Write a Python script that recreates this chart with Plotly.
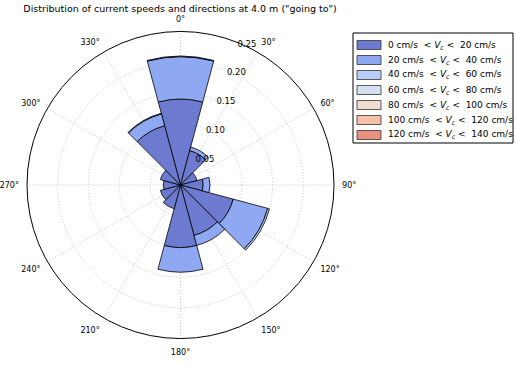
import plotly.graph_objects as go

# Direction sectors (degrees, "going to")
directions = [0, 30, 60, 90, 120, 150, 180, 210, 240, 270, 300, 330]

# Speed-bin labels
bin_labels = [
    "0 cm/s  <i>&lt; V<sub>c</sub> &lt;</i>  20 cm/s",
    "20 cm/s  <i>&lt; V<sub>c</sub> &lt;</i>  40 cm/s",
    "40 cm/s  <i>&lt; V<sub>c</sub> &lt;</i>  60 cm/s",
    "60 cm/s  <i>&lt; V<sub>c</sub> &lt;</i>  80 cm/s",
    "80 cm/s  <i>&lt; V<sub>c</sub> &lt;</i>  100 cm/s",
    "100 cm/s  <i>&lt; V<sub>c</sub> &lt;</i>  120 cm/s",
    "120 cm/s  <i>&lt; V<sub>c</sub> &lt;</i>  140 cm/s",
]

# Frequencies per direction for each speed bin
freq_0_20 = [0.140, 0.058, 0.028, 0.037, 0.089, 0.085, 0.102, 0.040, 0.034, 0.028, 0.034, 0.100]
freq_20_40 = [0.069, 0.006, 0.000, 0.011, 0.058, 0.017, 0.040, 0.000, 0.000, 0.000, 0.000, 0.020]
freq_40_60 = [0.001, 0.000, 0.000, 0.000, 0.003, 0.000, 0.000, 0.000, 0.000, 0.000, 0.000, 0.001]
freq_60_80 = [0.0] * 12
freq_80_100 = [0.0] * 12
freq_100_120 = [0.0] * 12
freq_120_140 = [0.0] * 12

bin_colors = ["#6c7bd0", "#8ea8f2", "#b8cdf8", "#d9dff2", "#f2ddd2", "#f6bfa8", "#e6917f"]

radial_ticks = [0.05, 0.10, 0.15, 0.20, 0.25]
radial_ticktext = ["0.05", "0.10", "0.15", "0.20", "0.25"]
angle_ticks = directions
angle_ticktext = [f"{d}°" for d in directions]

series = [freq_0_20, freq_20_40, freq_40_60, freq_60_80, freq_80_100, freq_100_120, freq_120_140]

fig = go.Figure()
for name, vals, col in zip(bin_labels, series, bin_colors):
    fig.add_trace(go.Barpolar(
        r=vals, theta=directions, width=[30] * len(directions), name=name,
        marker=dict(color=col, line=dict(color="black", width=0.8)),
        showlegend=False,
    ))

W, H = 516, 365
cx, cy, R = 180.5, 185.0, 153.5


def px(x):
    return x / W


def py(y):
    return 1 - y / H


# Legend box drawn as layout decoration (matplotlib-style legend)
shapes = [dict(type="rect", xref="paper", yref="paper",
               x0=px(353), x1=px(513), y0=py(143), y1=py(33),
               line=dict(color="black", width=1), fillcolor="white", layer="above")]
annotations = []
for i, (name, col) in enumerate(zip(bin_labels, bin_colors)):
    yc = 45 + 15 * i
    shapes.append(dict(type="rect", xref="paper", yref="paper",
                       x0=px(357), x1=px(381), y0=py(yc + 4.5), y1=py(yc - 4.5),
                       line=dict(color="#333333", width=0.8), fillcolor=col, layer="above"))
    annotations.append(dict(text=name, xref="paper", yref="paper", x=px(386), y=py(yc),
                            xanchor="left", yanchor="middle", showarrow=False,
                            font=dict(family="DejaVu Sans", size=9, color="black")))

fig.update_layout(
    width=W, height=H,
    margin=dict(l=0, r=0, t=0, b=0, autoexpand=False),
    paper_bgcolor="white",
    showlegend=False,
    font=dict(family="DejaVu Sans", size=8, color="black"),
    title=dict(text='Distribution of current speeds and directions at 4.0 m ("going to")',
               x=180 / W, xanchor="center", y=1 - 9 / H, yanchor="middle",
               font=dict(family="DejaVu Sans", size=9.5, color="black")),
    polar=dict(
        domain=dict(x=[(cx - R) / W, (cx + R) / W], y=[(H - cy - R) / H, (H - cy + R) / H]),
        bgcolor="white",
        barmode="stack",
        bargap=0,
        angularaxis=dict(rotation=90, direction="clockwise", tickmode="array",
                         tickvals=angle_ticks, ticktext=angle_ticktext,
                         showline=True, linecolor="black", linewidth=1,
                         showgrid=True, gridcolor="#c4c4c4", griddash="1px,2px", gridwidth=1,
                         ticks="outside", ticklen=6, tickcolor="rgba(0,0,0,0)",
                         tickfont=dict(size=8)),
        radialaxis=dict(range=[0, 0.25], tickmode="array", tickvals=radial_ticks,
                        ticktext=radial_ticktext, angle=70, tickangle=70,
                        side="clockwise",
                        showline=False, showgrid=True, gridcolor="#c4c4c4",
                        griddash="1px,2px", gridwidth=1, ticks="", tickfont=dict(size=8.5)),
    ),
    shapes=shapes,
    annotations=annotations,
)

fig.write_html("out.html")
